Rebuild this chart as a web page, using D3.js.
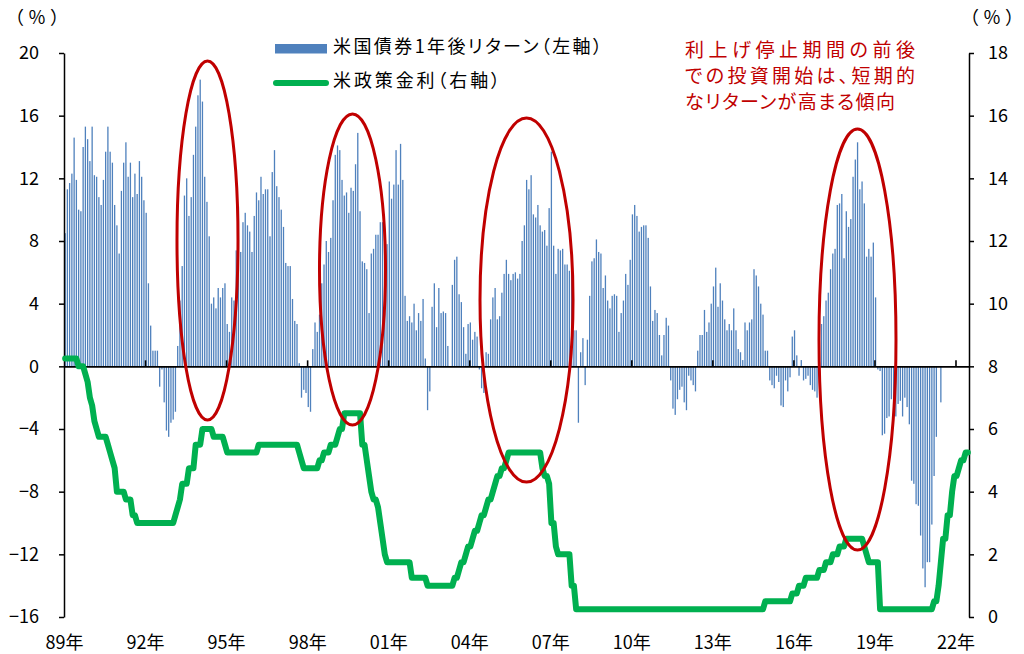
<!DOCTYPE html>
<html><head><meta charset="utf-8">
<script src="https://cdn.jsdelivr.net/npm/d3@7"></script>
<style>
body{margin:0;background:#fff;}
svg{display:block;}
text{font-family:"Noto Sans CJK JP","Noto Sans",sans-serif;}
.palt{font-feature-settings:"palt";}
</style>
</head><body>
<svg id="chart" width="1024" height="654"></svg>
<script>
// ---- data ----
const yearLabels = ["89年","92年","95年","98年","01年","04年","07年","10年","13年","16年","19年","22年"];
const leftTicks = [-16,-12,-8,-4,0,4,8,12,16,20];
const rightTicks = [0,2,4,6,8,10,12,14,16,18];
const legendLabels = ["米国債券1年後リターン（左軸）","米政策金利（右軸）"];
const noteLines = ["利上げ停止期間の前後","での投資開始は、短期的","なリターンが高まる傾向"];
const unitLabel = "（％）";

// monthly US Treasury 1-year-ahead return (%), left axis
const bondReturn = [
  8.5, 11.3, 11.7, 12.3, 14.6, 11.9, 10.0, 9.9, 14.0, 15.3, 14.5, 13.1,
  15.3, 12.2, 12.1, 10.8, 10.3, 11.9, 13.7, 15.3, 13.7, 13.0, 10.3, 9.0,
  7.2, 11.2, 13.0, 14.3, 12.1, 13.0, 10.8, 12.3, 11.0, 13.1, 12.1, 10.6,
  9.8, 5.3, 2.6, 1.0, 1.0, 1.0, -1.3, -0.2, -2.3, -4.1, -4.5, -3.6,
  -3.4, -2.9, 1.3, 4.2, 6.4, 10.9, 12.0, 9.6, 10.8, 13.5, 15.3, 17.3,
  18.3, 16.9, 12.1, 10.5, 8.3, 4.0, 4.4, 3.7, 5.0, 4.4, 5.0, 5.3,
  2.7, 2.2, 4.4, 4.2, 7.4, 10.2, 7.3, 9.2, 9.8, 9.0, 8.6, 7.3,
  9.6, 11.1, 10.6, 12.1, 11.0, 11.3, 11.3, 8.3, 12.4, 13.8, 11.5, 10.8,
  10.0, 8.9, 6.6, 6.4, 6.4, 4.3, 2.9, 2.7, 0.2, -2.0, -1.5, -1.7,
  -2.6, -2.9, 1.1, 2.8, 2.2, 3.3, 5.3, 6.5, 8.0, 7.3, 8.2, 10.6,
  13.5, 14.1, 13.8, 11.9, 10.9, 11.1, 9.8, 11.4, 11.2, 12.9, 14.9, 9.9,
  6.7, 6.6, 6.2, 3.4, 7.2, 7.5, 8.4, 8.4, 9.2, 9.2, 7.9, 7.8,
  11.8, 10.7, 11.6, 13.8, 11.6, 14.2, 11.9, 4.5, 2.9, 3.2, 2.8, 4.0,
  2.3, 3.4, 2.9, 4.3, 0.5, -2.8, -1.6, 3.8, 5.3, 2.5, 5.0, 3.4,
  3.5, 3.4, 1.3, 0, 5.2, 6.8, 7.0, 4.6, 4.1, 2.5, 0.8, 2.7,
  2.8, 1.7, 2.2, 1.9, -0.2, -1.4, -1.7, 0.9, 0.8, 3.0, 4.4, 5.0,
  3.0, 3.2, 4.7, 5.9, 6.8, 5.9, 5.5, 5.9, 6.0, 5.6, 5.9, 8.0,
  9.0, 11.9, 11.3, 12.2, 9.7, 9.5, 10.3, 9.0, 8.6, 8.7, 7.7, 10.1,
  13.7, 7.7, 5.9, 7.5, 7.4, 7.5, 6.5, 6.5, 6.1, 6.3, 2.3, 2.3,
  -3.6, 0.9, 1.8, -1.2, 1.7, 4.5, 6.7, 6.9, 8.1, 7.3, 7.2, 5.0,
  5.8, 4.2, 3.7, 4.5, 4.6, 4.5, 2.2, 3.4, 4.2, 5.9, 5.2, 6.8,
  9.7, 10.3, 9.6, 8.6, 8.9, 9.0, 9.0, 8.2, 5.1, 2.9, 3.6, 3.4,
  2.0, 0.7, 2.0, 3.1, 2.6, -0.9, -2.7, -3.1, -2.1, -1.5, -1.3, -2.3,
  -2.8, -0.6, -0.9, -1.2, -1.6, 1.0, 2.0, 2.0, 3.6, 2.2, 2.8, 4.0,
  5.1, 6.3, 3.8, 5.3, 4.2, 3.0, 2.3, 2.7, 2.3, 3.7, 2.3, 1.1,
  0.9, 0.4, 2.8, 2.3, 2.8, 3.0, 6.2, 5.8, 5.1, 4.0, 3.3, 1.0,
  1.0, -0.9, -1.2, -1.4, -0.6, -1.0, -2.5, -2.6, -0.9, -1.6, -0.7, 1.9,
  2.3, 0.7, -0.6, 0.4, -0.9, -0.8, -0.6, -1.2, -1.5, -1.6, -2.0, 0.9,
  2.7, 3.2, 4.2, 4.7, 6.2, 7.2, 7.5, 10.3, 10.4, 11.0, 6.9, 9.9,
  8.9, 9.4, 12.1, 13.2, 14.3, 11.3, 11.8, 10.4, 7.0, 7.5, 7.0, 7.9,
  4.4, -0.2, -0.3, -4.4, -4.3, -3.3, -3.2, -2.1, -2.5, -3.2, -2.4, -2.2,
  -3.2, -2.0, -2.6, -3.7, -7.3, -7.5, -8.8, -8.9, -10.8, -12.9, -14.1, -12.5,
  -12.5, -10.1, -7.0, -4.5, 0, -2.3
];

// monthly US policy rate (%), right axis
const policyRate = [
  8.25, 8.25, 8.25, 8.25, 8.25, 8.25, 8.0, 8.0, 8.0, 7.75, 7.5, 7.0,
  6.75, 6.25, 6.0, 5.75, 5.75, 5.75, 5.75, 5.5, 5.25, 5.0, 4.75, 4.0,
  4.0, 4.0, 4.0, 3.75, 3.75, 3.75, 3.25, 3.25, 3.0, 3.0, 3.0, 3.0,
  3.0, 3.0, 3.0, 3.0, 3.0, 3.0, 3.0, 3.0, 3.0, 3.0, 3.0, 3.0,
  3.0, 3.25, 3.5, 3.75, 4.25, 4.25, 4.25, 4.75, 4.75, 4.75, 5.5, 5.5,
  5.5, 6.0, 6.0, 6.0, 6.0, 6.0, 5.75, 5.75, 5.75, 5.75, 5.75, 5.5,
  5.25, 5.25, 5.25, 5.25, 5.25, 5.25, 5.25, 5.25, 5.25, 5.25, 5.25, 5.25,
  5.25, 5.25, 5.5, 5.5, 5.5, 5.5, 5.5, 5.5, 5.5, 5.5, 5.5, 5.5,
  5.5, 5.5, 5.5, 5.5, 5.5, 5.5, 5.5, 5.5, 5.25, 5.0, 4.75, 4.75,
  4.75, 4.75, 4.75, 4.75, 4.75, 5.0, 5.0, 5.25, 5.25, 5.25, 5.5, 5.5,
  5.5, 5.75, 6.0, 6.0, 6.5, 6.5, 6.5, 6.5, 6.5, 6.5, 6.5, 6.5,
  5.5, 5.5, 5.0, 4.5, 4.0, 3.75, 3.75, 3.5, 3.0, 2.5, 2.0, 1.75,
  1.75, 1.75, 1.75, 1.75, 1.75, 1.75, 1.75, 1.75, 1.75, 1.75, 1.25, 1.25,
  1.25, 1.25, 1.25, 1.25, 1.25, 1.0, 1.0, 1.0, 1.0, 1.0, 1.0, 1.0,
  1.0, 1.0, 1.0, 1.0, 1.0, 1.25, 1.25, 1.5, 1.75, 1.75, 2.0, 2.25,
  2.25, 2.5, 2.75, 2.75, 3.0, 3.25, 3.25, 3.5, 3.75, 3.75, 4.0, 4.25,
  4.5, 4.5, 4.75, 4.75, 5.0, 5.25, 5.25, 5.25, 5.25, 5.25, 5.25, 5.25,
  5.25, 5.25, 5.25, 5.25, 5.25, 5.25, 5.25, 5.25, 4.75, 4.5, 4.5, 4.25,
  3.0, 3.0, 2.25, 2.0, 2.0, 2.0, 2.0, 2.0, 2.0, 1.0, 1.0, 0.25,
  0.25, 0.25, 0.25, 0.25, 0.25, 0.25, 0.25, 0.25, 0.25, 0.25, 0.25, 0.25,
  0.25, 0.25, 0.25, 0.25, 0.25, 0.25, 0.25, 0.25, 0.25, 0.25, 0.25, 0.25,
  0.25, 0.25, 0.25, 0.25, 0.25, 0.25, 0.25, 0.25, 0.25, 0.25, 0.25, 0.25,
  0.25, 0.25, 0.25, 0.25, 0.25, 0.25, 0.25, 0.25, 0.25, 0.25, 0.25, 0.25,
  0.25, 0.25, 0.25, 0.25, 0.25, 0.25, 0.25, 0.25, 0.25, 0.25, 0.25, 0.25,
  0.25, 0.25, 0.25, 0.25, 0.25, 0.25, 0.25, 0.25, 0.25, 0.25, 0.25, 0.25,
  0.25, 0.25, 0.25, 0.25, 0.25, 0.25, 0.25, 0.25, 0.25, 0.25, 0.25, 0.5,
  0.5, 0.5, 0.5, 0.5, 0.5, 0.5, 0.5, 0.5, 0.5, 0.5, 0.5, 0.75,
  0.75, 0.75, 1.0, 1.0, 1.0, 1.25, 1.25, 1.25, 1.25, 1.25, 1.25, 1.5,
  1.5, 1.5, 1.75, 1.75, 1.75, 2.0, 2.0, 2.0, 2.25, 2.25, 2.25, 2.5,
  2.5, 2.5, 2.5, 2.5, 2.5, 2.5, 2.5, 2.25, 2.0, 1.75, 1.75, 1.75,
  1.75, 1.75, 0.25, 0.25, 0.25, 0.25, 0.25, 0.25, 0.25, 0.25, 0.25, 0.25,
  0.25, 0.25, 0.25, 0.25, 0.25, 0.25, 0.25, 0.25, 0.25, 0.25, 0.25, 0.25,
  0.25, 0.25, 0.5, 0.5, 1.0, 1.75, 2.5, 2.5, 3.25, 3.25, 4.0, 4.5,
  4.5, 4.75, 5.0, 5.0, 5.25, 5.25
];

// highlighted periods: centre month index, centre value (left axis), half-width (months), half-height (left units)
const highlightMonth = [63.24, 127.65, 204.95, 351.97];
const highlightValue = [8.03, 6.18, 4.23, 1.71];
const highlightHalfMonths = [13.55, 14.66, 20.66, 17.1];
const highlightHalfValue = [11.46, 9.93, 11.62, 13.44];

// ---- drawing ----
const FONT = '"Noto Sans CJK JP","Noto Sans",sans-serif';
const svg = d3.select("#chart");
const nMonths = 402;
const x = d3.scaleLinear().domain([-0.5, nMonths - 0.5]).range([64, 969]);
const yL = d3.scaleLinear().domain([-16, 20]).range([617, 53]);
const yR = d3.scaleLinear().domain([0, 18]).range([617, 53]);

const BLUE = "#4f81bd", GREEN = "#00b050", RED = "#c00000";

// bars
svg.append("g").selectAll("rect").data(bondReturn).join("rect")
  .attr("x", (d, i) => x(i) - 0.65)
  .attr("width", 1.3)
  .attr("y", d => yL(Math.max(0, d)))
  .attr("height", d => Math.abs(yL(d) - yL(0)))
  .attr("fill", BLUE);

// left axis
const axL = svg.append("g").attr("transform", `translate(${x.range()[0]},0)`)
  .call(d3.axisLeft(yL).tickValues(leftTicks).tickSize(5).tickSizeOuter(0).tickPadding(20));
// right axis
const axR = svg.append("g").attr("transform", `translate(${x.range()[1]},0)`)
  .call(d3.axisRight(yR).tickValues(rightTicks).tickSize(5).tickSizeOuter(0).tickPadding(14));
[axL, axR].forEach(g => {
  g.select(".domain").attr("stroke", "#000").attr("stroke-width", 1.5);
  g.selectAll(".tick line").attr("stroke", "#000").attr("stroke-width", 1.5);
  g.selectAll(".tick text").attr("font-size", 18).attr("fill", "#000").attr("font-family", FONT);
});

// category axis on zero line
const tickMonths = yearLabels.map((_, k) => 36 * k - 0.5);
const axZ = svg.append("g").attr("transform", `translate(0,${yL(0)})`)
  .call(d3.axisBottom(x).tickValues(tickMonths.slice(1)).tickSize(-6).tickSizeOuter(0).tickFormat(""));
axZ.select(".domain").attr("stroke", "#000").attr("stroke-width", 1.6);
axZ.selectAll(".tick line").attr("stroke", "#000").attr("stroke-width", 1.6);

// year labels
const axY = svg.append("g").attr("transform", `translate(0,636)`)
  .call(d3.axisBottom(x).tickValues(tickMonths).tickSize(0).tickPadding(0)
    .tickFormat((d, i) => yearLabels[i]));
axY.select(".domain").remove();
axY.selectAll(".tick text").attr("font-size", 18).attr("fill", "#000").attr("font-family", FONT);

// policy rate line
svg.append("path").datum(policyRate)
  .attr("d", d3.line().x((d, i) => x(i)).y(d => yR(d)))
  .attr("fill", "none").attr("stroke", GREEN).attr("stroke-width", 6)
  .attr("stroke-linejoin", "round").attr("stroke-linecap", "round");

// highlight ellipses
svg.append("g").selectAll("ellipse").data(highlightMonth).join("ellipse")
  .attr("cx", d => x(d))
  .attr("cy", (d, i) => yL(highlightValue[i]))
  .attr("rx", (d, i) => x(d + highlightHalfMonths[i]) - x(d))
  .attr("ry", (d, i) => yL(highlightValue[i] - highlightHalfValue[i]) - yL(highlightValue[i]))
  .attr("fill", "none").attr("stroke", RED).attr("stroke-width", 3);

// unit labels
[6, 961].forEach(ux => {
  svg.append("text").attr("x", ux).attr("y", 19).attr("dominant-baseline", "middle")
    .attr("font-size", 18).attr("fill", "#000")
    .attr("textLength", 62).attr("lengthAdjust", "spacing").text(unitLabel);
});

// legend
svg.append("rect").attr("x", 275).attr("y", 44).attr("width", 52).attr("height", 9.5).attr("fill", BLUE);
svg.append("line").attr("x1", 276).attr("x2", 326).attr("y1", 83).attr("y2", 83)
  .attr("stroke", GREEN).attr("stroke-width", 6).attr("stroke-linecap", "round");
const legendY = [48.5, 82];
const legendW = [269, 167];
svg.append("g").selectAll("text").data(legendLabels).join("text")
  .attr("class", "palt")
  .attr("x", 333).attr("y", (d, i) => legendY[i]).attr("dominant-baseline", "middle")
  .attr("font-size", 18).attr("fill", "#000")
  .attr("textLength", (d, i) => legendW[i]).attr("lengthAdjust", "spacing")
  .text(d => d);

// annotation note
const noteY = [52, 78, 104];
const noteW = [230, 230, 210];
svg.append("g").selectAll("text").data(noteLines).join("text")
  .attr("class", "palt")
  .attr("x", 685).attr("y", (d, i) => noteY[i]).attr("dominant-baseline", "middle")
  .attr("font-size", 19).attr("fill", RED)
  .attr("textLength", (d, i) => noteW[i]).attr("lengthAdjust", "spacing")
  .text(d => d);
</script>
</body></html>
